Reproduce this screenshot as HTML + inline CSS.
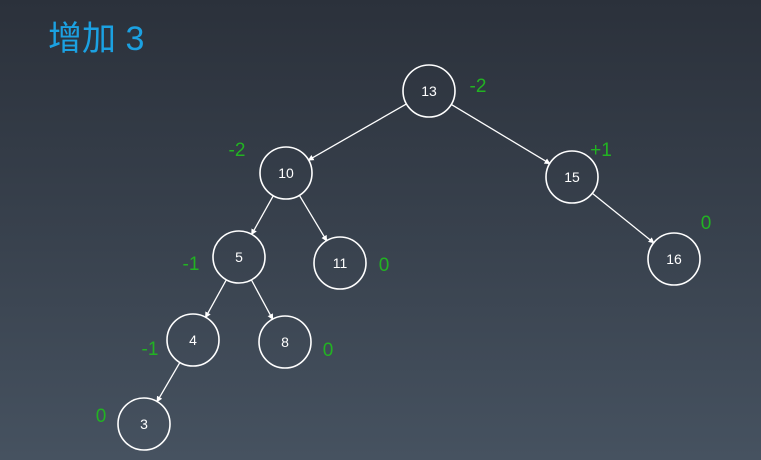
<!DOCTYPE html>
<html><head><meta charset="utf-8"><style>
html,body{margin:0;padding:0;}
body{width:761px;height:460px;overflow:hidden;background:linear-gradient(180deg,#2b313b 0%,#38414d 50%,#465260 100%);}
svg{display:block;}
</style></head><body>
<svg width="761" height="460">
<defs><marker id="ar" markerWidth="6" markerHeight="6" refX="5" refY="3" orient="auto" markerUnits="userSpaceOnUse"><path d="M0,0 L6,3 L0,6 z" fill="#fff"/></marker></defs>
<text x="48" y="50" fill="#1ba1e2" font-size="34" font-family="Liberation Sans, Noto Sans CJK SC, sans-serif">增加 3</text>
<g id="edges"></g><g id="nodes"></g><g id="labels"></g>
</svg>
<script>
const keys=['13','10','15','5','11','16','4','8','3'];
const cx=[429,286,572,239,340,674,193,285,144];
const cy=[91,173,177,257,263,259,340,342,424];
const parent=[-1,0,0,1,1,2,3,3,6];
const bal=['-2','-2','+1','-1','0','0','-1','0','0'];
const bx=[478,237,601,191,384,706,150,328,101];
const by=[92,156,156,270,271,229,355,356,422];
const ns='http://www.w3.org/2000/svg',R=26;
const E=document.getElementById('edges'),N=document.getElementById('nodes'),L=document.getElementById('labels');
keys.forEach((k,i)=>{
 if(parent[i]>=0){const p=parent[i];const dx=cx[i]-cx[p],dy=cy[i]-cy[p],d=Math.hypot(dx,dy);
  const l=document.createElementNS(ns,'line');
  l.setAttribute('x1',cx[p]+dx/d*R);l.setAttribute('y1',cy[p]+dy/d*R);
  l.setAttribute('x2',cx[i]-dx/d*R);l.setAttribute('y2',cy[i]-dy/d*R);
  l.setAttribute('stroke','#fff');l.setAttribute('stroke-width','1.3');l.setAttribute('marker-end','url(#ar)');
  
  
  E.appendChild(l);}
 const g=document.createElementNS(ns,'g');
 
 
 const c=document.createElementNS(ns,'circle');c.setAttribute('cx',cx[i]);c.setAttribute('cy',cy[i]);c.setAttribute('r',R);c.setAttribute('fill','none');c.setAttribute('stroke','#fff');c.setAttribute('stroke-width','1.6');
 const t=document.createElementNS(ns,'text');t.setAttribute('x',cx[i]);t.setAttribute('y',cy[i]+5);t.setAttribute('text-anchor','middle');t.setAttribute('fill','#fff');t.setAttribute('font-size','14');t.setAttribute('font-family','Liberation Sans, sans-serif');t.textContent=k;
 g.appendChild(c);g.appendChild(t);N.appendChild(g);
 const b=document.createElementNS(ns,'text');b.setAttribute('x',bx[i]);b.setAttribute('y',by[i]);b.setAttribute('text-anchor','middle');b.setAttribute('fill','#22b322');b.setAttribute('font-size','19');b.setAttribute('font-family','Liberation Sans, sans-serif');b.textContent=bal[i];
 
 
 L.appendChild(b);
});
</script>
</body></html>
